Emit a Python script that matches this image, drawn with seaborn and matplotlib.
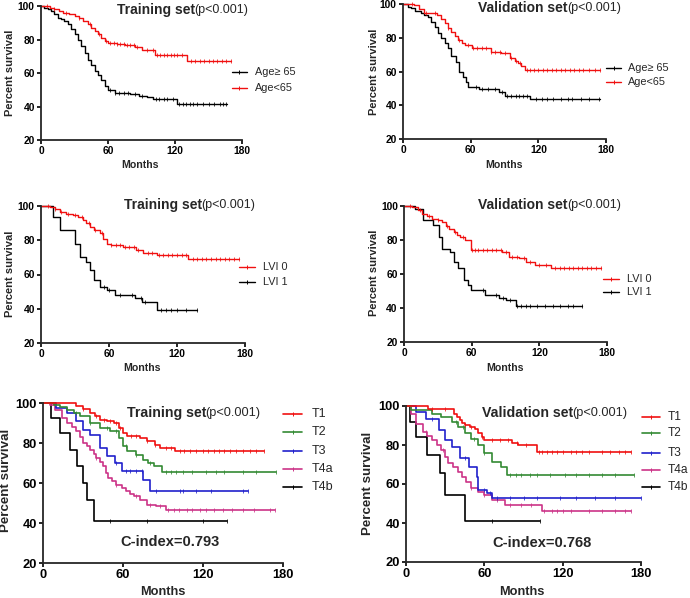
import matplotlib
matplotlib.use("Agg")
import matplotlib.pyplot as plt
from matplotlib.lines import Line2D
import numpy as np
import pandas as pd
import seaborn as sns

# ---------------- data ----------------
XTICKS = [0, 60, 120, 180]
YTICKS = [20, 40, 60, 80, 100]

# Panel 1: Training set, Age
P1_OLD_T = [0, 3, 6, 9, 12, 15, 18, 21, 24, 27, 30, 33, 36, 39, 42, 45, 48, 51, 54, 57, 60, 66, 80, 88, 95, 100, 122]
P1_OLD_S = [100, 99, 98, 97, 95, 93, 92.5, 91, 89, 86, 83, 80, 76, 72, 68, 65, 61, 59, 56, 52, 50, 48, 47.5, 46.5, 45.5, 44.6, 41.6]
P1_OLD_END = 167
P1_OLD_C = [62, 66, 70, 74, 78, 84, 90, 103, 106, 110, 113, 118, 124, 127, 130, 133, 136, 140, 145, 150, 155, 160, 163, 166]
P1_YNG_T = [0, 8, 12, 16, 20, 25, 30, 34, 38, 42, 45, 48, 51, 54, 57, 60, 68, 75, 84, 90, 102, 131]
P1_YNG_S = [100, 99, 98, 97, 96, 95, 94, 93, 91, 89, 87, 85, 83, 81, 79, 78, 77.5, 76.5, 75.5, 74, 70.5, 67]
P1_YNG_END = 170
P1_YNG_C = [5, 12, 22, 34, 44, 52, 58, 62, 65, 68, 71, 74, 77, 80, 83, 86, 95, 100, 104, 107, 110, 113, 116, 119, 122, 126, 134, 138, 142, 146, 150, 154, 158, 162, 166, 170]

# Panel 2: Validation set, Age
P2_OLD_T = [0, 4, 7, 11, 16, 19, 22, 25, 28, 31, 34, 37, 40, 43, 47, 50, 53, 56, 58, 67, 85, 90, 113]
P2_OLD_S = [100, 98.5, 97.4, 96, 94.5, 93.5, 92.5, 89.5, 86.6, 83, 79.7, 77, 73.8, 68.9, 65.9, 60, 57, 53.5, 50.7, 49.6, 47.6, 45.2, 43.6]
P2_OLD_END = 175
P2_OLD_C = [65, 70, 75, 82, 88, 92, 96, 100, 103, 106, 110, 118, 123, 128, 133, 140, 146, 150, 158, 165, 174]
P2_YNG_T = [0, 10, 14, 19, 30, 34, 37, 40, 43, 46, 49, 52, 55, 61, 73, 78, 87, 95, 99, 102, 105, 108]
P2_YNG_S = [100, 99.4, 97, 94.5, 93.5, 91, 88.6, 86, 83.6, 81, 78.7, 77, 75.8, 73.8, 73.8, 71.8, 70.8, 67.9, 66.5, 64.9, 63, 61]
P2_YNG_END = 175
P2_YNG_C = [8, 20, 28, 40, 50, 58, 62, 66, 70, 74, 78, 82, 86, 90, 96, 100, 104, 110, 113, 116, 120, 124, 128, 132, 136, 140, 144, 148, 152, 156, 160, 165, 170, 175]

# Panel 3: Training set, LVI
P3_L0_T = [0, 8, 12, 16.5, 22, 28, 33, 37, 40, 43, 47, 52, 55, 58, 62, 72, 84, 90, 102, 130]
P3_L0_S = [100, 99.6, 98, 96.7, 95.5, 94.7, 93.5, 91.8, 90, 87.9, 86, 84, 81, 78.1, 77.2, 76.2, 74.2, 72.3, 71.3, 68.8]
P3_L0_END = 175
P3_L0_C = [6, 12, 18, 24, 30, 36, 42, 48, 54, 62, 66, 70, 74, 78, 82, 86, 94, 98, 104, 108, 112, 116, 120, 124, 128, 134, 138, 142, 146, 150, 154, 158, 162, 166, 170, 175]
P3_L1_T = [0, 10.6, 16.5, 30, 34, 40, 43, 47, 52, 58, 65, 83, 89, 102]
P3_L1_S = [100, 93.8, 86, 78, 70.3, 67.4, 62.5, 56.7, 52.8, 51.2, 48.3, 46.3, 44, 39]
P3_L1_END = 138
P3_L1_C = [56, 60, 70, 80, 88, 92, 106, 110, 115, 120, 128, 138]

# Panel 4: Validation set, LVI
P4_L0_T = [0, 7, 12, 16, 20, 25, 30, 34, 37, 40, 44, 47, 50, 54, 59, 87, 93, 102, 108, 116, 130]
P4_L0_S = [100, 99.4, 97.5, 95.5, 94, 92.6, 91.5, 90.6, 88.5, 86.7, 84.5, 82.8, 81.5, 79.9, 74, 73.1, 70.1, 69.2, 67.2, 65.3, 63.3]
P4_L0_END = 175
P4_L0_C = [5, 14, 22, 30, 38, 45, 52, 60, 63, 66, 70, 74, 78, 82, 86, 90, 96, 100, 106, 112, 120, 126, 134, 138, 142, 146, 150, 154, 158, 162, 166, 170, 175]
P4_L1_T = [0, 10, 17, 26, 31, 34, 41, 44, 48, 53, 57, 59, 72, 84, 90, 99]
P4_L1_S = [100, 98.4, 91.6, 88.7, 81.9, 75, 73.1, 67.2, 63.3, 56.5, 53.6, 50.6, 47.7, 45.8, 44.8, 41.3]
P4_L1_END = 158
P4_L1_C = [70, 82, 88, 94, 100, 104, 108, 112, 118, 125, 132, 138, 145, 150, 158]

# Panel 5: Training set, T stage
P5_T1_T = [0, 25, 30, 35, 39, 43, 48, 53, 57, 60, 63, 73, 78, 84, 88, 99]
P5_T1_S = [100, 98.3, 97, 95, 93.5, 91.7, 90.8, 90, 87.5, 85, 83.7, 82.5, 80.8, 79, 77.5, 75.8]
P5_T1_END = 166
P5_T1_C = [30, 40, 46, 50, 55, 58, 66, 70, 78, 84, 92, 96, 103, 106, 110, 115, 120, 124, 128, 132, 136, 140, 145, 150, 155, 160, 166]
P5_T2_T = [0, 8, 13, 18, 23, 28, 35, 43, 50, 57, 60, 63, 70, 75, 79, 83, 89]
P5_T2_S = [100, 99, 98, 96.7, 95, 93.3, 90, 87.5, 85.8, 82.5, 78.3, 75.8, 74.2, 71.7, 70, 68.3, 65.7]
P5_T2_END = 175
P5_T2_C = [25, 35, 48, 55, 62, 70, 80, 92, 96, 100, 105, 112, 122, 130, 136, 150, 160, 175]
P5_T3_T = [0, 10, 18, 25, 30, 35, 43, 48, 54, 59, 75, 80]
P5_T3_S = [100, 97.5, 95, 90.8, 86.7, 84.2, 77.5, 73.3, 70, 65.8, 61.3, 55.8]
P5_T3_END = 154
P5_T3_C = [55, 62, 65, 70, 74, 85, 103, 105, 115, 126, 150, 154]
P5_T4A_T = [0, 5.5, 9, 14, 18, 22, 25, 28, 30, 33, 35, 38, 40, 43, 45, 47, 49, 52, 55, 59, 62, 65, 68, 73, 78, 85, 92]
P5_T4A_S = [100, 99.2, 96.7, 92.5, 90, 88, 85.8, 83, 80, 78.5, 76.7, 74.5, 72.5, 70.5, 68.3, 65, 62.5, 61, 59.2, 57.5, 55.8, 54.5, 53.3, 51.7, 49.2, 48.3, 46.7]
P5_T4A_END = 174
P5_T4A_C = [40, 55, 70, 80, 88, 94, 98, 102, 108, 112, 118, 122, 128, 135, 142, 150, 158, 170, 174]
P5_T4B_T = [0, 6, 13, 20.5, 25.5, 30, 33, 38]
P5_T4B_S = [100, 92.5, 85, 76.7, 68.3, 60, 51.7, 40.8]
P5_T4B_END = 138
P5_T4B_C = [50, 78, 120, 138]

# Panel 6: Validation set, T stage
P6_T1_T = [0, 17, 37, 39, 41, 43, 45, 49, 53, 55, 58, 60, 81, 86, 100]
P6_T1_S = [100, 98.6, 96, 94.5, 92.7, 91.5, 90.1, 89.2, 88.4, 85.9, 84, 82.5, 80.8, 79.9, 76.5]
P6_T1_END = 172
P6_T1_C = [20, 30, 45, 50, 58, 66, 72, 78, 85, 92, 102, 104, 108, 112, 116, 120, 126, 130, 135, 140, 150, 156, 163, 168, 172]
P6_T2_T = [0, 4, 20, 27, 35, 40, 45, 50, 55, 60, 66, 73, 77]
P6_T2_S = [100, 97.8, 96, 94.4, 91.8, 89.3, 85.9, 83.3, 79.9, 75.7, 71.4, 68.9, 64.6]
P6_T2_END = 175
P6_T2_C = [38, 44, 52, 60, 80, 84, 88, 95, 100, 110, 122, 130, 140, 150, 160, 175]
P6_T3_T = [0, 8, 15, 25, 30, 35, 41, 48, 54, 55, 62, 66]
P6_T3_S = [100, 96.9, 93.5, 87.6, 82.5, 79.1, 73.1, 68.9, 63.7, 56.9, 55.2, 52.7]
P6_T3_END = 180
P6_T3_C = [20, 45, 60, 64, 70, 80, 90, 100, 118, 130, 145, 160, 180]
P6_T4A_T = [0, 4, 8, 13, 16, 20, 24, 27, 30, 32, 36, 40, 43, 46, 50, 55, 60, 66, 76, 104]
P6_T4A_S = [100, 96, 91, 86.7, 84.5, 82.5, 80, 77.4, 74, 70.6, 68.5, 66.3, 63.5, 61.2, 57.8, 56.1, 54.4, 51.8, 49.3, 46.2]
P6_T4A_END = 172
P6_T4A_C = [15, 28, 50, 60, 70, 80, 88, 96, 106, 112, 116, 120, 126, 140, 150, 160, 168, 172]
P6_T4B_T = [0, 3, 8, 16, 26, 30, 45]
P6_T4B_S = [100, 91.8, 84.2, 74.8, 65.5, 54.4, 40.8]
P6_T4B_END = 103
P6_T4B_C = [15, 66, 103]

TITLES = ["Training set", "Validation set"]
PTEXT = "(p<0.001)"
CINDEX = ["C-index=0.793", "C-index=0.768"]
AGE_LABELS = ["Age\u2265 65", "Age<65"]
LVI_LABELS = ["LVI 0", "LVI 1"]
T_LABELS = ["T1", "T2", "T3", "T4a", "T4b"]

RED = "#f01010"
BLACK = "#000000"
GREEN = "#338a33"
BLUE = "#2020cc"
MAGENTA = "#cc3388"

# ---------------- figure ----------------
sns.set_style("ticks")
plt.rcParams["font.family"] = ["Liberation Sans", "DejaVu Sans"]
W, H = 690, 598
fig = plt.figure(figsize=(W / 100, H / 100), dpi=100)


def fx(x):
    return x / W


def fy(y):
    return 1 - y / H


def make_ax(x0, x180, y100, y20, fs):
    ax = fig.add_axes([fx(x0), fy(y20), (x180 - x0) / W, (y20 - y100) / H])
    ax.set_xlim(0, 180)
    ax.set_ylim(20, 100)
    ax.set_xticks(XTICKS)
    ax.set_yticks(YTICKS)
    ax.set_xticklabels([str(v) for v in XTICKS], fontweight="bold", fontsize=fs)
    ax.set_yticklabels([str(v) for v in YTICKS], fontweight="bold", fontsize=fs)
    for s in ["top", "right"]:
        ax.spines[s].set_visible(False)
    for s in ["left", "bottom"]:
        ax.spines[s].set_linewidth(1.3)
    ax.tick_params(direction="out", length=3, width=1.2, pad=1.5, colors="black")
    ax.set_xlabel("")
    ax.set_ylabel("")
    ax.patch.set_alpha(0)
    return ax


def surv_at(times, surv, t):
    idx = np.searchsorted(times, t, side="right") - 1
    return surv[max(idx, 0)]


def km(ax, times, surv, end, cens, color, lw):
    df = pd.DataFrame({"t": list(times) + [end], "s": list(surv) + [surv[-1]]})
    sns.lineplot(data=df, x="t", y="s", ax=ax, color=color, lw=lw,
                 drawstyle="steps-post", estimator=None, sort=False, clip_on=False)
    cdf = pd.DataFrame({"t": cens, "s": [surv_at(times, surv, c) for c in cens]})
    ax.plot(cdf["t"], cdf["s"], ls="none", marker="|", ms=2.6, mew=0.55, color=color,
            clip_on=False)
    ax.set_xlabel("")
    ax.set_ylabel("")


def legend_entry(x0, x1, y, xt, color, label, fs, lw):
    fig.add_artist(Line2D([fx(x0), fx(x1)], [fy(y), fy(y)], color=color, lw=lw))
    fig.add_artist(Line2D([fx((x0 + x1) / 2)], [fy(y)], marker="|", ms=3.0, mew=0.7,
                          color=color, ls="none"))
    fig.text(fx(xt), fy(y), label, fontsize=fs, va="center", ha="left")


renderer = fig.canvas.get_renderer()


def title(x, y, txt, fs1, fs2):
    t = fig.text(fx(x), fy(y), txt, fontsize=fs1, fontweight="bold", va="center", ha="left")
    bb = t.get_window_extent(renderer=renderer)
    fig.text(bb.x1 / W - 0.001, fy(y), PTEXT, fontsize=fs2, va="center", ha="left")


def labels(ylx, yly, mx, my, fs, fsm):
    fig.text(fx(ylx), fy(yly), "Percent survival", rotation=90, fontsize=fs,
             fontweight="bold", ha="center", va="center")
    fig.text(fx(mx), fy(my), "Months", fontsize=fsm, fontweight="bold",
             ha="center", va="center")


# Row 1
ax1 = make_ax(41, 242, 6, 140, 7.4)
km(ax1, P1_OLD_T, P1_OLD_S, P1_OLD_END, P1_OLD_C, BLACK, 1.0)
km(ax1, P1_YNG_T, P1_YNG_S, P1_YNG_END, P1_YNG_C, RED, 1.0)
title(117, 10, TITLES[0], 10, 9)
labels(10, 73, 140, 165, 8, 7.6)
legend_entry(232, 247, 72, 255, BLACK, AGE_LABELS[0], 7.8, 1.0)
legend_entry(232, 247, 88, 255, RED, AGE_LABELS[1], 7.8, 1.0)

ax2 = make_ax(403, 606, 4, 139, 7.4)
km(ax2, P2_OLD_T, P2_OLD_S, P2_OLD_END, P2_OLD_C, BLACK, 1.0)
km(ax2, P2_YNG_T, P2_YNG_S, P2_YNG_END, P2_YNG_C, RED, 1.0)
title(478, 8, TITLES[1], 10, 9)
labels(374, 72, 504, 165, 8, 7.6)
legend_entry(606, 621, 68, 628, BLACK, AGE_LABELS[0], 7.8, 1.0)
legend_entry(606, 621, 82, 628, RED, AGE_LABELS[1], 7.8, 1.0)

# Row 2
ax3 = make_ax(41, 245, 206, 343, 7.4)
km(ax3, P3_L1_T, P3_L1_S, P3_L1_END, P3_L1_C, BLACK, 1.0)
km(ax3, P3_L0_T, P3_L0_S, P3_L0_END, P3_L0_C, RED, 1.0)
title(124, 205, TITLES[0], 10, 9)
labels(10, 274, 142, 368, 8, 7.6)
legend_entry(239, 255, 267, 263, RED, LVI_LABELS[0], 7.8, 1.0)
legend_entry(239, 255, 282, 263, BLACK, LVI_LABELS[1], 7.8, 1.0)

ax4 = make_ax(404, 607, 206, 342, 7.4)
km(ax4, P4_L1_T, P4_L1_S, P4_L1_END, P4_L1_C, BLACK, 1.0)
km(ax4, P4_L0_T, P4_L0_S, P4_L0_END, P4_L0_C, RED, 1.0)
title(478, 205, TITLES[1], 10, 9)
labels(374, 273, 505, 368, 8, 7.6)
legend_entry(603, 619, 279, 627, RED, LVI_LABELS[0], 7.8, 1.0)
legend_entry(603, 619, 292, 627, BLACK, LVI_LABELS[1], 7.8, 1.0)

# Row 3
T_COLORS = [RED, GREEN, BLUE, MAGENTA, BLACK]
ax5 = make_ax(43, 283, 403, 563, 9.3)
for tt, ss, ee, cc, col in [(P5_T4B_T, P5_T4B_S, P5_T4B_END, P5_T4B_C, BLACK),
                            (P5_T4A_T, P5_T4A_S, P5_T4A_END, P5_T4A_C, MAGENTA),
                            (P5_T3_T, P5_T3_S, P5_T3_END, P5_T3_C, BLUE),
                            (P5_T2_T, P5_T2_S, P5_T2_END, P5_T2_C, GREEN),
                            (P5_T1_T, P5_T1_S, P5_T1_END, P5_T1_C, RED)]:
    km(ax5, tt, ss, ee, cc, col, 1.2)
title(127, 413, TITLES[0], 10.2, 9.2)
labels(6, 480, 163, 592, 9.6, 9.2)
fig.text(fx(170), fy(542), CINDEX[0], fontsize=10.5, fontweight="bold", ha="center", va="center")
for lab, col, yy in zip(T_LABELS, T_COLORS, [414, 432, 451, 469, 487]):
    legend_entry(283, 302, yy, 312, col, lab, 9, 1.2)

ax6 = make_ax(406, 641, 406, 562, 9.3)
for tt, ss, ee, cc, col in [(P6_T4B_T, P6_T4B_S, P6_T4B_END, P6_T4B_C, BLACK),
                            (P6_T4A_T, P6_T4A_S, P6_T4A_END, P6_T4A_C, MAGENTA),
                            (P6_T3_T, P6_T3_S, P6_T3_END, P6_T3_C, BLUE),
                            (P6_T2_T, P6_T2_S, P6_T2_END, P6_T2_C, GREEN),
                            (P6_T1_T, P6_T1_S, P6_T1_END, P6_T1_C, RED)]:
    km(ax6, tt, ss, ee, cc, col, 1.2)
title(482, 413, TITLES[1], 10.2, 9.2)
labels(368, 483, 522, 592, 9.6, 9.2)
fig.text(fx(542), fy(543), CINDEX[1], fontsize=10.5, fontweight="bold", ha="center", va="center")
for lab, col, yy in zip(T_LABELS, T_COLORS, [417, 433, 453, 470, 487]):
    legend_entry(642, 660, yy, 668, col, lab, 8.6, 1.2)

fig.savefig("out.png", dpi=100)
